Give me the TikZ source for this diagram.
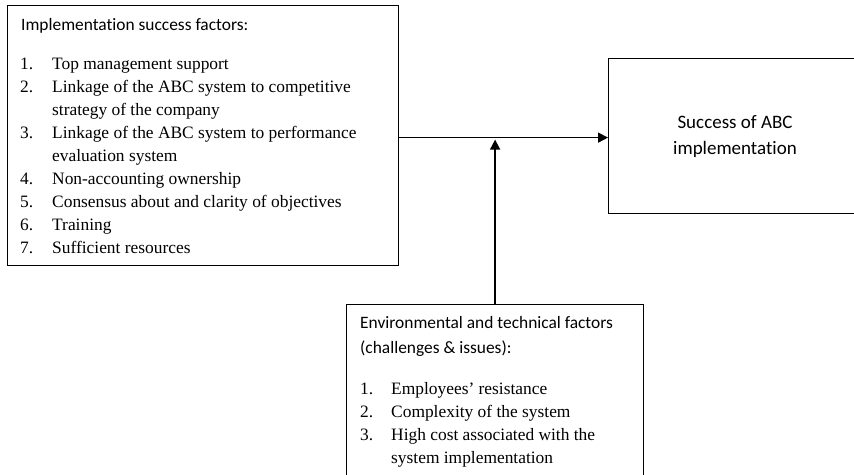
\documentclass[tikz,border=0pt]{standalone}
\usepackage{fontspec}
\setmainfont{Liberation Serif}
\newfontfamily\headfont[Ligatures=NoCommon]{Carlito}
\usetikzlibrary{arrows.meta}
\tikzset{
  box/.style={draw, line width=1.2pt, anchor=north west, inner sep=0pt},
  headtext/.style={anchor=base west, inner sep=0pt, font=\headfont\fontsize{17.4}{24}\selectfont},
  itemtext/.style={anchor=base west, inner sep=0pt, font=\fontsize{17.4}{23}\selectfont},
  link/.style={line width=1.5pt, -{Triangle[length=10pt,width=10pt]}}
}
\begin{document}
\begin{tikzpicture}[x=1pt,y=-1pt]
\clip (0,0) rectangle (854,474);
%%% The three boxes
\node[box, minimum width=391pt, minimum height=260pt] (factors) at (7,5) {};
\node[box, minimum width=254pt, minimum height=155pt] (outcome) at (608,58) {};
\node[box, minimum width=297pt, minimum height=180pt] (challenges) at (346,304) {};
%%% Text of the left box
\node[headtext] (factorshead) at (21,30) {Implementation success factors:};
\node[itemtext] (n1) at (20,69) {1.};  \node[itemtext] (t1) at (52,69) {Top management support};
\node[itemtext] (n2) at (20,92) {2.};  \node[itemtext] (t2) at (52,92) {Linkage of the ABC system to competitive};
\node[itemtext] (t2b) at (52,115) {strategy of the company};
\node[itemtext] (n3) at (20,138) {3.}; \node[itemtext] (t3) at (52,138) {Linkage of the ABC system to performance};
\node[itemtext] (t3b) at (52,161) {evaluation system};
\node[itemtext] (n4) at (20,184) {4.}; \node[itemtext] (t4) at (52,184) {Non-accounting ownership};
\node[itemtext] (n5) at (20,207) {5.}; \node[itemtext] (t5) at (52,207) {Consensus about and clarity of objectives};
\node[itemtext] (n6) at (20,230) {6.}; \node[itemtext] (t6) at (52,230) {Training};
\node[itemtext] (n7) at (20,253) {7.}; \node[itemtext] (t7) at (52,253) {Sufficient resources};
%%% Text of the right box
\node[headtext, anchor=base, font=\headfont\fontsize{19}{25}\selectfont] (outcomea) at (735,128) {Success of ABC};
\node[headtext, anchor=base, font=\headfont\fontsize{19}{25}\selectfont] (outcomeb) at (735,154) {implementation};
%%% Text of the bottom box
\node[headtext] (challhead) at (360,328) {Environmental and technical factors};
\node[headtext] (challheadb) at (360,353) {(challenges \& issues):};
\node[itemtext] (m1) at (360,394) {1.}; \node[itemtext] (s1) at (391,394) {Employees’ resistance};
\node[itemtext] (m2) at (360,417) {2.}; \node[itemtext] (s2) at (391,417) {Complexity of the system};
\node[itemtext] (m3) at (360,440) {3.}; \node[itemtext] (s3) at (391,440) {High cost associated with the};
\node[itemtext] (s3b) at (391,463) {system implementation};
%%% The arrows
\coordinate (level) at ([yshift=-2pt]factors.east);
\coordinate (join) at (challenges.north |- level);
\draw[link] (level) -- (outcome.west |- level);
\draw[link] (challenges.north) -- ([yshift=-2pt]join);
\end{tikzpicture}
\end{document}
